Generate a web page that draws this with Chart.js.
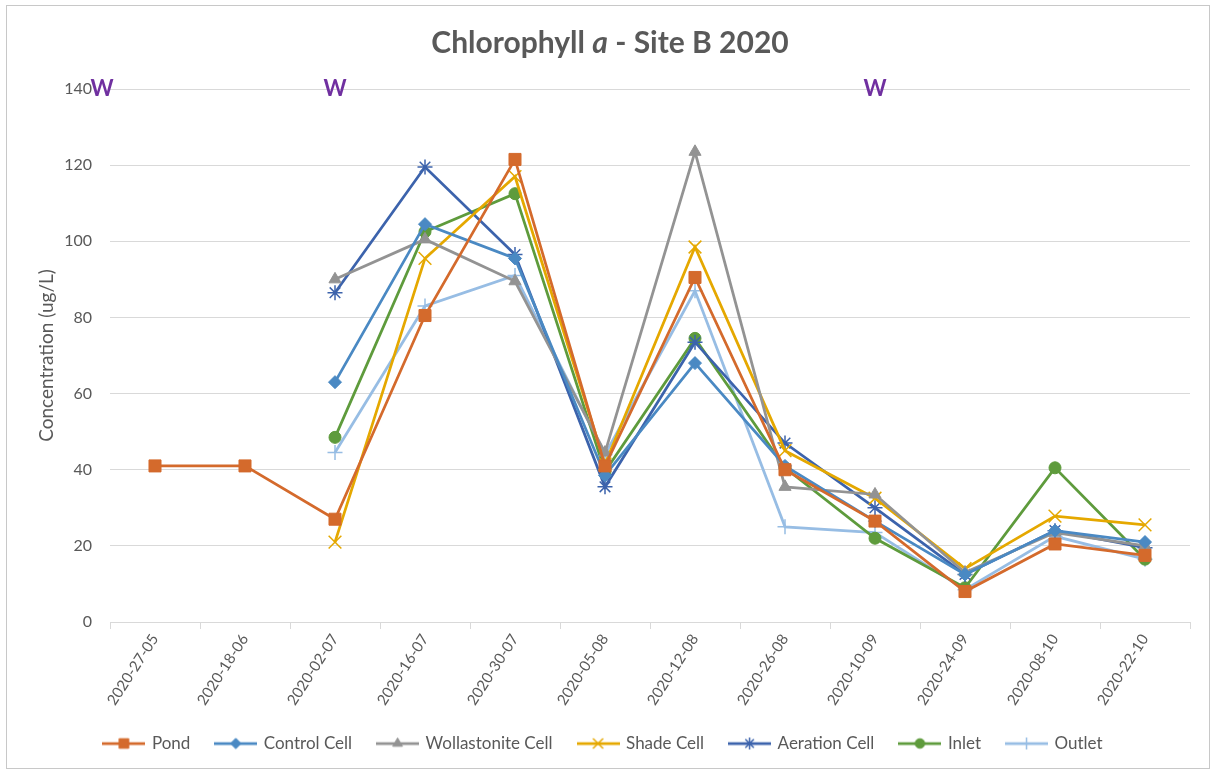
<!DOCTYPE html>
<html>
<head>
<meta charset="utf-8">
<script src="https://cdn.jsdelivr.net/npm/chart.js@4/dist/chart.umd.min.js"></script>
<style>
html,body{margin:0;padding:0;background:#fff;}
#wrap{width:1215px;height:772px;position:relative;}
</style>
</head>
<body>
<div id="wrap"><canvas id="c" width="1215" height="772"></canvas></div>
<script>
const categories = ['2020-27-05','2020-18-06','2020-02-07','2020-16-07','2020-30-07','2020-05-08','2020-12-08','2020-26-08','2020-10-09','2020-24-09','2020-08-10','2020-22-10'];
const pond         = [41, 41, 27, 80.5, 121.5, 41, 90.5, 40, 26.5, 8, 20.5, 17.5];
const controlCell  = [null, null, 63, 104.5, 95.5, 38.5, 68, 41, 26.5, 12.5, 24, 21];
const wollastonite = [null, null, 90, 100.5, 89.5, 44.5, 123.5, 35.5, 33.5, 13, 23.5, 20];
const shadeCell    = [null, null, 21, 95.5, 117, 41.5, 98.5, 45, 32.5, 14, 27.8, 25.5];
const aeration     = [null, null, 86.5, 119.5, 96.5, 35.5, 73.5, 47, 30, 12.5, 24, 19.5];
const inlet        = [null, null, 48.5, 102.5, 112.5, 39.5, 74.5, 40.5, 22, 9, 40.5, 16.5];
const outlet       = [null, null, 44.5, 83, 91, 44, 87, 25, 23.5, 8.5, 22.5, 16.5];
const wMarkers     = ['before', '2020-02-07', '2020-10-09'];
const wValue = 140;

const TXT = '#595959';
const FONT = 'Lato, "Open Sans", sans-serif';

const seriesDefs = [
  {label:'Pond', data:pond, color:'#D46A2C', style:'rect', r:8.5, bw:1},
  {label:'Control Cell', data:controlCell, color:'#4A89C3', style:'rectRot', r:6.5, bw:1},
  {label:'Wollastonite Cell', data:wollastonite, color:'#939393', style:'triangle', r:7, bw:1},
  {label:'Shade Cell', data:shadeCell, color:'#E5A800', style:'crossRot', r:9, bw:1.5},
  {label:'Aeration Cell', data:aeration, color:'#3C63AC', style:'star', r:7.5, bw:1.5},
  {label:'Inlet', data:inlet, color:'#5E9B3C', style:'circle', r:6, bw:1},
  {label:'Outlet', data:outlet, color:'#97BDE4', style:'cross', r:7.5, bw:1.5}
];

function legendImage(d){
  const cv = document.createElement('canvas');
  cv.width = 43; cv.height = 16;
  const g = cv.getContext('2d');
  g.strokeStyle = d.color; g.lineWidth = 2.75;
  g.beginPath(); g.moveTo(0,8); g.lineTo(43,8); g.stroke();
  g.fillStyle = d.color; g.strokeStyle = d.color;
  g.lineWidth = d.bw;
  Chart.helpers.drawPoint(g, {pointStyle:d.style, radius:d.r*0.8, rotation:0, borderWidth:d.bw}, 21.5, 8);
  return cv;
}

const datasets = seriesDefs.map(d => ({
  label:d.label, data:d.data,
  borderColor:d.color, backgroundColor:d.color,
  borderWidth:2.75, tension:0,
  pointStyle:d.style, pointRadius:d.r, pointHoverRadius:d.r,
  pointBackgroundColor:d.color, pointBorderColor:d.color, pointBorderWidth:d.bw
}));

const decor = {
  id:'decor',
  beforeDraw(chart){
    const ctx = chart.ctx;
    ctx.save();
    ctx.fillStyle = '#fff';
    ctx.fillRect(0,0,chart.width,chart.height);
    ctx.strokeStyle = '#C8C8C8'; ctx.lineWidth = 1;
    ctx.strokeRect(6.5,5.5,1203,763);
    ctx.restore();
  },
  afterDraw(chart){
    const ctx = chart.ctx;
    const xs = chart.scales.x, ys = chart.scales.y;
    ctx.save();
    const parts = [
      {t:'Chlorophyll ', f:'bold 30px ' + FONT},
      {t:'a', f:'italic bold 30px ' + FONT},
      {t:' - Site B 2020', f:'bold 30px ' + FONT}
    ];
    let total = 0;
    parts.forEach(p => { ctx.font = p.f; p.w = ctx.measureText(p.t).width; total += p.w; });
    let x = 610 - total/2;
    ctx.fillStyle = TXT; ctx.textBaseline = 'alphabetic'; ctx.textAlign = 'left';
    parts.forEach(p => { ctx.font = p.f; ctx.fillText(p.t, x, 53); x += p.w; });
    ctx.font = 'bold 22px ' + FONT;
    ctx.fillStyle = '#7030A0';
    ctx.textAlign = 'center'; ctx.textBaseline = 'middle';
    const yy = ys.getPixelForValue(wValue);
    wMarkers.forEach(m => {
      const px = m === 'before' ? xs.left - 8 : xs.getPixelForValue(categories.indexOf(m));
      ctx.fillText('W', px, yy);
    });
    ctx.restore();
  }
};

new Chart(document.getElementById('c'), {
  type:'line',
  data:{labels:categories, datasets},
  options:{
    responsive:false, animation:false,
    layout:{padding:{top:89, left:17, right:25, bottom:10}},
    plugins:{
      title:{display:false},
      tooltip:{enabled:false},
      legend:{
        position:'bottom',
        labels:{
          color:TXT, font:{family:FONT, size:17},
          usePointStyle:true, pointStyleWidth:39, boxHeight:16,
          padding:26,
          generateLabels(chart){
            return seriesDefs.map((d,i) => ({
              text:d.label, fillStyle:d.color, strokeStyle:d.color,
              pointStyle:legendImage(d), datasetIndex:i, lineWidth:0, hidden:false, fontColor:TXT
            }));
          }
        }
      }
    },
    scales:{
      x:{
        offset:true,
        afterFit(s){ s.height = 87; s.paddingLeft = 0; s.paddingRight = 0; },
        grid:{offset:true, drawOnChartArea:false, drawTicks:true, tickLength:7, color:'#D9D9D9'},
        border:{color:'#D9D9D9', width:1},
        ticks:{color:TXT, font:{family:FONT, size:15}, minRotation:57, maxRotation:57, padding:2}
      },
      y:{
        min:0, max:140,
        afterFit(s){ s.width = 93; s.paddingTop = 0; s.paddingBottom = 0; },
        ticks:{stepSize:20, color:TXT, font:{family:FONT, size:16}, padding:18},
        grid:{color:'#D9D9D9', drawTicks:false, lineWidth:1},
        border:{display:false},
        title:{display:true, text:'Concentration (ug/L)', color:TXT, font:{family:FONT, size:19}, padding:{top:18,bottom:6}}
      }
    }
  },
  plugins:[decor]
});
</script>
</body>
</html>
